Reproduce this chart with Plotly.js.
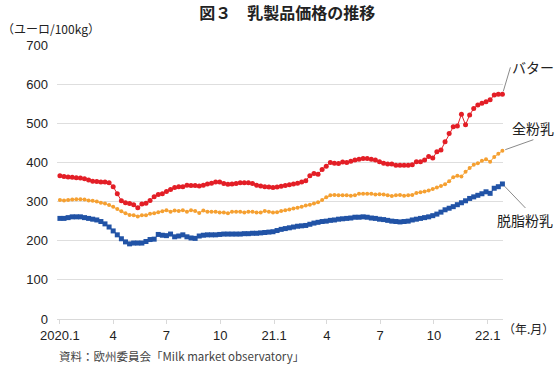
<!DOCTYPE html>
<html>
<head>
<meta charset="utf-8">
<script src="https://cdn.plot.ly/plotly-3.0.1.min.js"></script>
<style>
html,body{margin:0;padding:0;background:#fff;}
#chart{width:558px;height:369px;}
</style>
</head>
<body>
<div id="chart"></div>
<script>
// Weekly observations starting 2020-01-01
const startDate = '2020-01-01';
const seriesNames = ['バター', '全粉乳', '脱脂粉乳'];

const butter = [366,364,363,362,361,360,358,355,352,351,350,350,348,338,320,302,297,295,292,284,
  294,296,303,312,318,320,326,331,336,338,338,342,341,341,340,342,345,347,350,350,
  346,344,345,346,348,348,348,346,342,340,338,337,336,337,339,341,343,345,347,350,
  353,366,372,370,382,390,400,398,397,401,400,403,406,408,410,410,408,406,402,398,
  396,396,393,393,393,393,394,402,402,406,415,411,427,432,453,474,491,493,523,496,
  521,538,547,551,555,560,572,574,574];

const wholeMilk = [304,303,304,305,306,306,305,303,302,300,297,295,291,287,281,275,270,266,265,262,
  265,265,269,270,273,275,278,274,277,276,278,274,278,276,271,277,274,274,274,272,
  272,270,274,274,274,272,274,274,272,272,276,274,272,273,276,278,280,282,284,287,
  290,292,295,298,304,311,316,317,316,316,316,315,316,320,320,320,320,318,319,318,
  316,314,316,317,315,316,317,322,324,326,328,332,336,340,344,352,362,366,364,376,
  386,394,398,404,408,402,414,422,430];

const skimMilk = [257,257,259,261,261,261,259,257,255,253,249,243,235,225,215,205,197,192,194,194,
  194,198,203,204,216,214,213,217,210,212,215,210,207,206,212,214,215,215,215,216,
  217,217,217,217,217,218,218,219,219,220,221,222,223,226,229,231,233,235,237,238,
  239,242,245,247,249,250,252,253,255,256,257,258,260,260,261,260,258,257,255,254,
  252,250,249,248,249,250,253,255,257,259,261,264,268,273,279,283,287,292,297,302,
  308,312,316,320,325,321,334,338,345];

const tickDates = ['2020-01-01','2020-04-01','2020-07-01','2020-10-01','2021-01-01','2021-04-01','2021-07-01','2021-10-01','2022-01-01'];
const tickLabels = ['2020.1','4','7','10','21.1','4','7','10','22.1'];

function weeklyDates(start, n) {
  const out = [];
  const d0 = new Date(start + 'T00:00:00Z');
  for (let i = 0; i < n; i++) {
    const d = new Date(d0.getTime() + i * 7 * 86400000);
    out.push(d.toISOString().slice(0, 10));
  }
  return out;
}
const dates = weeklyDates(startDate, butter.length);
const lastDate = dates[dates.length - 1];

const colors = ['#e31e26', '#f5a031', '#2153a6'];
const symbols = ['circle', 'circle', 'square'];
const sizes = [5, 4, 5];
const data = [butter, wholeMilk, skimMilk].map((vals, i) => ({
  type: 'scatter', mode: 'lines+markers', x: dates, y: vals, name: seriesNames[i],
  line: {color: colors[i], width: 1},
  marker: {color: colors[i], symbol: symbols[i], size: sizes[i], line: {width: 0}},
  cliponaxis: false, hoverinfo: 'skip'
}));

const fontJP = '"Noto Sans CJK JP", "Noto Sans", sans-serif';
const fontNum = '"Liberation Sans", Arial, sans-serif';
const leader = '#8a8a8a';

const layout = {
  width: 558, height: 369,
  margin: {l: 57, r: 55, t: 45, b: 50},
  paper_bgcolor: '#fff', plot_bgcolor: '#fff',
  showlegend: false,
  title: {text: '図３　乳製品価格の推移', x: 0.515, xanchor: 'center', y: 0.965, yanchor: 'middle',
    font: {family: fontJP, size: 16, color: '#222', weight: 'bold'}},
  xaxis: {
    type: 'date', range: ['2019-12-27', '2022-01-27'],
    tickvals: tickDates, ticktext: tickLabels,
    showgrid: false, zeroline: false,
    showline: true, linecolor: '#d9d9d9', linewidth: 1,
    ticks: 'outside', ticklen: 4, tickcolor: '#d9d9d9',
    tickfont: {family: fontNum, size: 13, color: '#222'}
  },
  yaxis: {
    range: [0, 700], dtick: 100, tick0: 0,
    showgrid: true, gridcolor: '#dedede', gridwidth: 1,
    zeroline: false, showline: false, ticks: '', ticklabelstandoff: 8,
    tickfont: {family: fontNum, size: 13, color: '#222'}
  },
  annotations: [
    {x: lastDate, y: butter[butter.length - 1], text: seriesNames[0], showarrow: true, arrowhead: 0,
      arrowwidth: 1, arrowcolor: leader, ax: 8, ay: -27, standoff: 3, xanchor: 'left', yanchor: 'middle',
      font: {family: fontJP, size: 14, color: '#222'}},
    {x: lastDate, y: wholeMilk[wholeMilk.length - 1], text: seriesNames[1], showarrow: true, arrowhead: 0,
      arrowwidth: 1, arrowcolor: leader, ax: 31, ay: -11, standoff: 3, xanchor: 'center', yanchor: 'bottom',
      font: {family: fontJP, size: 14, color: '#222'}},
    {x: lastDate, y: skimMilk[skimMilk.length - 1], text: seriesNames[2], showarrow: true, arrowhead: 0,
      arrowwidth: 1, arrowcolor: leader, ax: 23, ay: 24, standoff: 3, xanchor: 'center', yanchor: 'top',
      font: {family: fontJP, size: 14, color: '#222'}},
    {xref: 'paper', yref: 'paper', x: -0.128, y: 1.062, xanchor: 'left', yanchor: 'middle', showarrow: false,
      text: '（ユーロ/100kg）', font: {family: fontJP, size: 12, color: '#222'}},
    {xref: 'paper', yref: 'paper', x: 0.996, y: -0.035, xanchor: 'left', yanchor: 'middle', showarrow: false,
      text: '（年.月）', font: {family: fontJP, size: 12, color: '#222'}},
    {xref: 'paper', yref: 'paper', x: 0.0, y: -0.135, xanchor: 'left', yanchor: 'middle', showarrow: false,
      text: '資料：欧州委員会「Milk market observatory」', font: {family: fontJP, size: 11.5, color: '#444'}}
  ]
};

Plotly.newPlot('chart', data, layout, {displayModeBar: false, staticPlot: true});
</script>
</body>
</html>
